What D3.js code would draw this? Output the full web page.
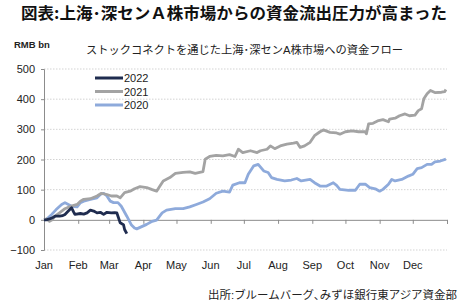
<!DOCTYPE html>
<html><head><meta charset="utf-8">
<script src="https://cdn.jsdelivr.net/npm/d3@7"></script>
<style>
html,body{margin:0;padding:0;background:#fff;}
svg{display:block;font-family:"Liberation Sans","Noto Sans CJK JP",sans-serif;}
</style></head>
<body>
<svg id="c" width="465" height="306"></svg>
<script>
// ---- data (day of year offsets from Jan 1, cumulative flow RMB bn) ----
const seriesNames = ["2022", "2021", "2020"];
const days2022 = [0,2,5,8,10,14,17,19,22,25,27,28,33,36,39,42,45,48,51,54,57,61,64,66,67,69,72,73,75];
const vals2022 = [0,0,3,8,12,12,14,18,29,40,25,18,21,19,23,32,29,23,25,18,25,23,24,23,12,-10,-16,-32,-46];
const days2021 = [0,2,5,7,10,14,19,24,27,30,33,36,42,48,52,57,61,66,69,73,78,82,87,93,98,102,105,108,114,119,126,132,137,143,144,146,150,156,162,168,173,176,180,187,193,196,202,205,209,214,220,226,229,232,236,241,245,250,253,259,265,268,273,279,285,291,292,294,298,303,307,312,313,318,322,327,331,336,339,342,344,347,350,354,360,363,364];
const vals2021 = [0,3,-5,-1,12,23,37,45,48,51,62,68,70,79,88,84,79,79,73,90,95,103,110,107,100,95,112,129,140,154,157,159,154,159,160,201,210,214,212,216,210,234,223,229,223,229,234,245,236,245,251,254,257,240,245,257,279,292,298,290,288,284,292,295,292,292,285,318,320,329,332,325,334,337,345,351,345,347,362,368,401,418,429,422,423,425,432];
const days2020 = [0,2,7,11,16,19,22,25,30,33,36,42,48,51,54,57,60,63,67,70,75,79,82,84,87,93,98,102,107,111,119,126,132,138,144,150,156,162,168,171,177,182,185,190,194,199,203,206,211,218,224,229,233,241,245,250,256,262,265,268,276,282,286,291,295,300,304,307,312,315,318,324,330,334,338,342,347,351,354,359,364];
const vals2020 = [0,1,18,34,51,57,51,45,43,57,62,68,73,84,88,79,62,57,57,45,12,-16,-27,-30,-25,-15,-5,-1,23,32,37,37,43,51,59,70,88,95,92,115,123,123,151,179,184,162,157,140,134,129,132,137,129,134,123,112,112,123,114,101,98,98,118,118,107,103,95,101,118,134,129,134,145,151,170,173,184,184,192,195,201];
const yTicks = [-100, 0, 100, 200, 300, 400, 500];
const monthLabels = ["Jan","Feb","Mar","Apr","May","Jun","Jul","Aug","Sep","Oct","Nov","Dec"];

const title = "図表:上海･深センＡ株市場からの資金流出圧力が高まった";
const subtitle = "ストックコネクトを通じた上海･深センA株市場への資金フロー";
const unit = "RMB bn";
const source = "出所:ブルームバーグ､みずほ銀行東アジア資金部";

const colors = {"2022":"#1f2c4f","2021":"#a3a3a3","2020":"#8eaadb"};

// ---- layout ----
const svg = d3.select("#c");
const L = 44, R = 447, T = 69, B = 250;
const base = new Date(2021,0,1);
const toDate = d => d3.timeDay.offset(base, d);
const x = d3.scaleTime().domain([base, new Date(2022,0,1)]).range([L, R]);
const y = d3.scaleLinear().domain([-100, 500]).range([B, T]);

// gridlines
svg.append("g").selectAll("line").data(yTicks.filter(v => v !== 0)).join("line")
  .attr("x1", L).attr("x2", R).attr("y1", d => y(d)).attr("y2", d => y(d))
  .attr("stroke", "#c8c8c8").attr("stroke-width", 0.8).attr("stroke-dasharray", "1.5,1.5");

// y axis
const yAxis = svg.append("g").attr("transform", `translate(${L},0)`)
  .call(d3.axisLeft(y).tickValues(yTicks).tickSize(3).tickPadding(6));
yAxis.select(".domain").attr("stroke", "#8c8c8c");
yAxis.selectAll(".tick line").attr("stroke", "#8c8c8c");
yAxis.selectAll(".tick text").attr("font-size", 11).attr("fill", "#222")
  .attr("font-family", "Liberation Sans, Arial, sans-serif");

// x axis at zero
const months = d3.timeMonth.range(base, new Date(2022,0,2));
const xAxis = svg.append("g").attr("transform", `translate(0,${y(0)})`)
  .call(d3.axisBottom(x).tickValues(months).tickSize(4).tickFormat(""));
xAxis.select(".domain").attr("stroke", "#8c8c8c");
xAxis.selectAll(".tick line").attr("stroke", "#8c8c8c");

// month labels
svg.append("g").selectAll("text").data(months.slice(0,12)).join("text")
  .attr("x", d => x(d)).attr("y", 269)
  .attr("text-anchor", "middle").attr("font-size", 11).attr("fill", "#222")
  .text((d,i) => monthLabels[i]);

// lines
const line = d3.line().x(d => x(toDate(d[0]))).y(d => y(d[1])).curve(d3.curveLinear);
const series = [
  {name:"2020", days:days2020, vals:vals2020},
  {name:"2021", days:days2021, vals:vals2021},
  {name:"2022", days:days2022, vals:vals2022}
];
svg.append("g").selectAll("path").data(series).join("path")
  .attr("d", s => line(s.days.map((d,i) => [d, s.vals[i]])))
  .attr("fill", "none").attr("stroke", s => colors[s.name])
  .attr("stroke-width", 2.8).attr("stroke-linejoin", "round");

// legend
const lg = svg.append("g").selectAll("g").data(seriesNames).join("g")
  .attr("transform", (d,i) => `translate(95,${78 + i*13.5})`);
lg.append("line").attr("x1", 0).attr("x2", 28).attr("y1", 0).attr("y2", 0)
  .attr("stroke", d => colors[d]).attr("stroke-width", 3);
lg.append("text").attr("x", 29).attr("y", 4).attr("font-size", 11).attr("fill", "#222").text(d => d);

// texts
svg.append("text").attr("x", 21).attr("y", 19).attr("font-size", 16).attr("font-weight", "bold")
  .attr("font-family", "Noto Sans CJK JP, sans-serif").attr("fill", "#111")
  .attr("textLength", 426).attr("lengthAdjust", "spacingAndGlyphs").text(title);
svg.append("text").attr("x", 14).attr("y", 48).attr("font-size", 9.5).attr("font-weight", "bold")
  .attr("fill", "#222").text(unit);
svg.append("text").attr("x", 86).attr("y", 54).attr("font-size", 11).attr("fill", "#222")
  .attr("textLength", 317).attr("lengthAdjust", "spacingAndGlyphs").text(subtitle);
svg.append("text").attr("x", 457).attr("y", 299).attr("font-size", 11).attr("fill", "#222")
  .attr("text-anchor", "end").attr("textLength", 249).attr("lengthAdjust", "spacingAndGlyphs").text(source);
</script>
</body></html>
